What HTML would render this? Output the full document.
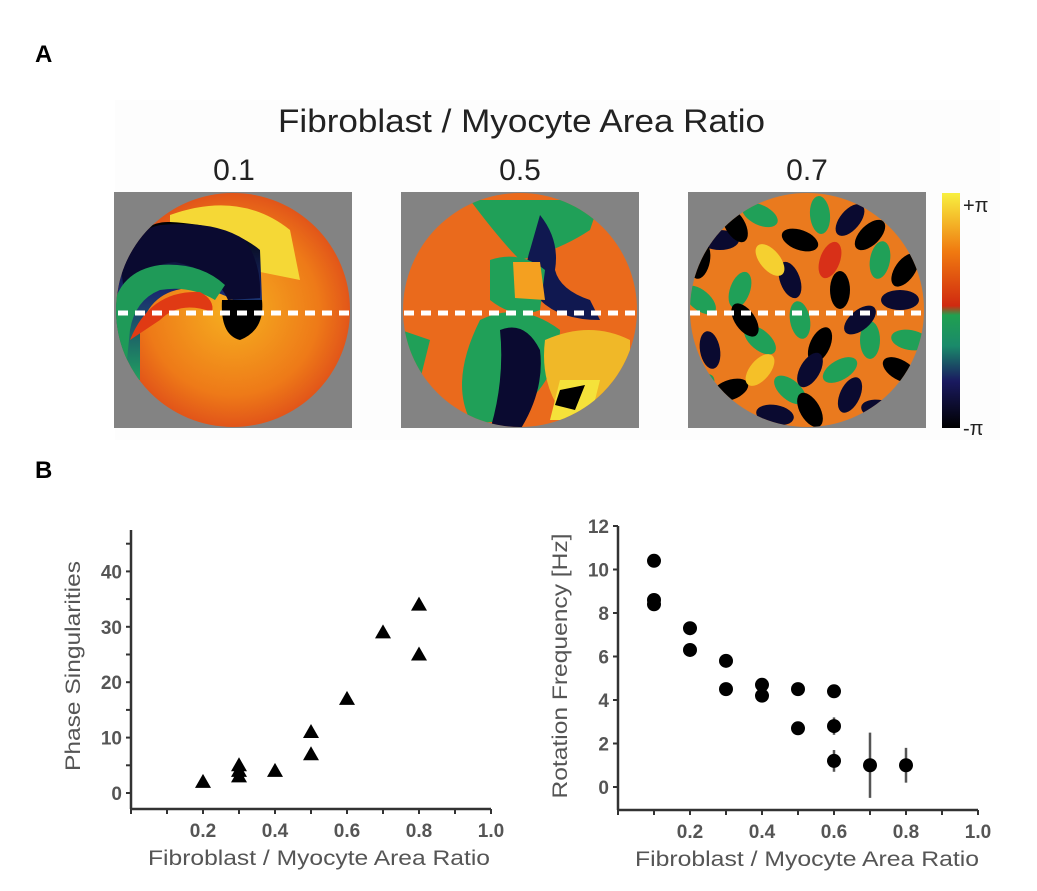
<!DOCTYPE html>
<html><head><meta charset="utf-8"><style>
body{margin:0;background:#fff;width:1037px;height:891px;overflow:hidden;font-family:"Liberation Sans",sans-serif}
svg{position:absolute;left:0;top:0}
</style></head><body>
<svg width="1037" height="891" xmlns="http://www.w3.org/2000/svg" font-family="Liberation Sans, sans-serif">
<defs>
<clipPath id="c1"><circle cx="233" cy="310" r="117"/></clipPath>
<clipPath id="c2"><circle cx="520" cy="310" r="117"/></clipPath>
<clipPath id="c3"><circle cx="807" cy="310" r="117"/></clipPath>
<linearGradient id="cb" x1="0" y1="1" x2="0" y2="0">
<stop offset="0" stop-color="#000"/><stop offset="0.2" stop-color="#1a1a60"/><stop offset="0.35" stop-color="#1a8a6a"/><stop offset="0.48" stop-color="#20a050"/><stop offset="0.52" stop-color="#d02a10"/><stop offset="0.75" stop-color="#f07a10"/><stop offset="1" stop-color="#f8f040"/></linearGradient>
<radialGradient id="or" cx="0.5" cy="0.5" r="0.6"><stop offset="0" stop-color="#f6b020"/><stop offset="0.6" stop-color="#ee7a18"/><stop offset="1" stop-color="#d8381a"/></radialGradient>
<linearGradient id="bg" x1="0" y1="0" x2="0" y2="1"><stop offset="0" stop-color="#000"/><stop offset="0.45" stop-color="#1a2a70"/><stop offset="1" stop-color="#20a060"/></linearGradient>
</defs>
<rect x="115" y="100" width="885" height="340" fill="#fdfdfd"/>
<text x="35" y="62" font-size="24" font-weight="bold">A</text>
<text x="35" y="478" font-size="24" font-weight="bold">B</text>
<text x="278" y="132" font-size="32" textLength="487" lengthAdjust="spacingAndGlyphs" fill="#222">Fibroblast / Myocyte Area Ratio</text>
<text x="234" y="180" font-size="30" text-anchor="middle" fill="#222">0.1</text>
<text x="520" y="180" font-size="30" text-anchor="middle" fill="#222">0.5</text>
<text x="807" y="180" font-size="30" text-anchor="middle" fill="#222">0.7</text>

<g>
<rect x="114" y="192" width="238" height="236" fill="#838383"/>
<g clip-path="url(#c1)">
<rect x="114" y="192" width="238" height="236" fill="url(#or)"/>
<path d="M170 215 Q240 190 290 230 L300 280 L250 270 Q230 240 170 230Z" fill="#f5d836"/>
<path d="M115 320 Q120 220 170 222 Q230 225 260 250 L262 300 L250 315 Q230 290 190 288 Q150 290 140 330 L140 380 L115 380Z" fill="url(#bg)"/>
<path d="M160 225 Q215 220 245 240 Q262 265 260 298 L228 300 Q215 270 175 262 Q140 265 125 300 L120 260 Q130 232 160 225Z" fill="#0a0a30"/>
<path d="M115 300 Q125 270 160 265 Q200 262 225 285 L215 300 Q190 285 160 290 Q135 300 130 330 L125 380 L115 370Z" fill="#1f9a58"/>
<path d="M222 300 L262 300 Q265 330 240 340 Q220 335 222 300Z" fill="#000"/>
<path d="M130 340 Q150 290 200 292 Q215 300 212 312 Q180 300 160 320 Z" fill="#e03a14"/>
</g>
</g>
<g>
<rect x="401" y="192" width="238" height="236" fill="#838383"/>
<g clip-path="url(#c2)">
<rect x="401" y="192" width="238" height="236" fill="#ea6a1c"/>
<path d="M470 200 Q500 240 520 260 Q560 250 590 230 L600 200Z" fill="#20a058"/>
<path d="M540 215 Q560 240 555 270 Q560 290 590 300 L600 320 Q560 320 540 300 Q520 280 530 250Z" fill="#101850"/>
<path d="M490 260 Q520 250 545 270 L540 310 Q515 320 490 300Z" fill="#20a058"/>
<path d="M513 262 L540 262 L545 300 L515 298Z" fill="#f4a020"/>
<path d="M480 320 Q520 300 560 330 Q560 370 530 400 Q500 430 470 420 Q450 380 480 320Z" fill="#20a058"/>
<path d="M500 330 Q525 320 540 350 Q545 390 520 430 L490 430 Q505 380 500 330Z" fill="#0a0a30"/>
<path d="M545 340 Q590 320 630 340 L630 400 Q600 420 560 410 Q540 380 545 340Z" fill="#f0b828"/>
<path d="M560 380 L600 380 L590 420 L550 420Z" fill="#f5e23a"/>
<path d="M560 390 L585 385 L575 410 L555 405Z" fill="#000"/>
<path d="M401 330 L430 340 L420 380 L401 380Z" fill="#20a058"/>
</g>
</g>
<g>
<rect x="688" y="192" width="238" height="236" fill="#838383"/>
<g clip-path="url(#c3)" id="m3">
<rect x="688" y="192" width="238" height="236" fill="#ea7a1e"/>
</g>
</g>
<g stroke="#fff" stroke-width="5" stroke-dasharray="10 7">
<line x1="118" y1="313" x2="350" y2="313"/><line x1="404" y1="313" x2="637" y2="313"/><line x1="690" y1="313" x2="925" y2="313"/>
</g>
<g>
<rect x="942" y="193" width="18" height="235" fill="url(#cb)"/>
<text x="963" y="212" font-size="20" fill="#222">+π</text>
<text x="963" y="435" font-size="20" fill="#222">-π</text>
</g>

<g id="chart1" fill="#222"></g>
<g id="chart2" fill="#222"></g>
</svg>
<script>
const NS="http://www.w3.org/2000/svg";
function mk(p,t,a){const e=document.createElementNS(NS,t);for(const k in a)e.setAttribute(k,a[k]);p.appendChild(e);return e;}
const m3=document.getElementById('m3');
const blobs=[[720,240,'#0a0a30'],[760,215,'#20a058'],[800,240,'#000'],[850,220,'#0a0a30'],[880,260,'#20a058'],[740,290,'#20a058'],[790,280,'#0a0a30'],[840,290,'#000'],[900,300,'#0a0a30'],[710,350,'#0a0a30'],[760,340,'#20a058'],[820,345,'#000'],[870,340,'#20a058'],[730,390,'#000'],[790,390,'#20a058'],[850,395,'#0a0a30'],[900,370,'#000'],[770,260,'#f5d030'],[830,260,'#d83018'],[760,370,'#f5c028'],[880,410,'#0a0a30'],[810,410,'#000'],[700,300,'#20a058'],[820,215,'#20a058'],[700,260,'#000'],[745,320,'#000'],[800,320,'#20a058'],[860,320,'#0a0a30'],[910,340,'#20a058'],[700,390,'#20a058'],[775,415,'#0a0a30'],[840,370,'#20a058'],[870,235,'#000'],[810,370,'#0a0a30'],[735,225,'#000'],[905,270,'#000']];
blobs.forEach(b=>{mk(m3,'ellipse',{cx:b[0],cy:b[1],rx:19,ry:10,fill:b[2],transform:`rotate(${(b[0]*7+b[1]*3)%180} ${b[0]} ${b[1]})`});});

// Chart 1 data
const c1X=[0.2,0.3,0.3,0.3,0.4,0.5,0.5,0.6,0.7,0.8,0.8];
const c1Y=[2,5,4,3,4,11,7,17,29,34,25];
const c1XTicks=[0.2,0.4,0.6,0.8,1.0];
const c1YTicks=[0,10,20,30,40];
// Chart 2 data
const c2X=[0.1,0.1,0.1,0.2,0.2,0.3,0.3,0.4,0.4,0.5,0.5,0.6,0.6,0.6,0.7,0.8];
const c2Y=[10.4,8.6,8.4,7.3,6.3,5.8,4.5,4.7,4.2,4.5,2.7,4.4,2.8,1.2,1.0,1.0];
const c2Err=[0,0,0,0,0,0,0,0,0,0,0,0,0.4,0.5,1.5,0.8];
const c2XTicks=[0.2,0.4,0.6,0.8,1.0];
const c2YTicks=[0,2,4,6,8,10,12];

function axes(g,o){
  const sx=v=>o.x0+v*o.kx, sy=v=>o.y0-v*o.ky;
  const xa=mk(g,'line',{x1:o.x0,y1:o.axY,x2:sx(1.0),y2:o.axY,stroke:'#333','stroke-width':2.5});
  
  
  const ya=mk(g,'line',{x1:o.x0,y1:o.axY,x2:o.x0,y2:o.top,stroke:'#333','stroke-width':2.5});
  
  
  for(let i=0;i<=10;i++){mk(g,'line',{x1:sx(i/10),y1:o.axY,x2:sx(i/10),y2:o.axY+5,stroke:'#333','stroke-width':2});}
  o.xt.forEach(v=>{const t=mk(g,'text',{x:sx(v),y:o.axY+28,'font-size':19,'font-weight':'bold','text-anchor':'middle',fill:'#555'});t.textContent=v.toFixed(1);
    
    });
  for(let v=o.ymin;v<=o.ymax;v+=o.minor){mk(g,'line',{x1:o.x0-5,y1:sy(v),x2:o.x0,y2:sy(v),stroke:'#333','stroke-width':2});}
  o.yt.forEach(v=>{const t=mk(g,'text',{x:o.x0-9,y:sy(v)+7,'font-size':19,'font-weight':'bold','text-anchor':'end',fill:'#555'});t.textContent=v;
    
    });
  const xl=mk(g,'text',{x:o.x0+17,y:o.axY+56,'font-size':21,textLength:o.xlw,lengthAdjust:'spacingAndGlyphs',fill:'#555'});xl.textContent='Fibroblast / Myocyte Area Ratio';
  
  
  const yl=mk(g,'text',{x:0,y:0,'font-size':21,'text-anchor':'middle',fill:'#555',textLength:o.ylw,lengthAdjust:'spacingAndGlyphs',transform:`translate(${o.ylx},${o.yly}) rotate(-90)`});yl.textContent=o.ylab;
  
  
  return [sx,sy];
}
const g1=document.getElementById('chart1');
const [sx1,sy1]=axes(g1,{x0:131,kx:360,y0:793,ky:5.54,axY:809,top:530,xt:c1XTicks,yt:c1YTicks,ymin:0,ymax:45,minor:5,ylab:'Phase Singularities',ylx:80,yly:666,ylw:210,xlw:342});
c1X.forEach((x,i)=>{const cx=sx1(x),cy=sy1(c1Y[i]);
  const p=mk(g1,'path',{d:`M${cx} ${cy-8}L${cx+8} ${cy+6}L${cx-8} ${cy+6}Z`,fill:'#000'});
  
  });
const g2=document.getElementById('chart2');
const [sx2,sy2]=axes(g2,{x0:618,kx:360,y0:787,ky:21.75,axY:810,top:526,xt:c2XTicks,yt:c2YTicks,ymin:0,ymax:12,minor:2,ylab:'Rotation Frequency [Hz]',ylx:567,yly:666,ylw:265,xlw:344});
c2X.forEach((x,i)=>{const cx=sx2(x),cy=sy2(c2Y[i]);
  if(c2Err[i]>0){const e=mk(g2,'line',{x1:cx,y1:sy2(c2Y[i]+c2Err[i]),x2:cx,y2:sy2(c2Y[i]-c2Err[i]),stroke:'#555','stroke-width':2.5});
    
    }
  const c=mk(g2,'circle',{cx:cx,cy:cy,r:7,fill:'#000'});
  
  });
</script>
</body></html>
